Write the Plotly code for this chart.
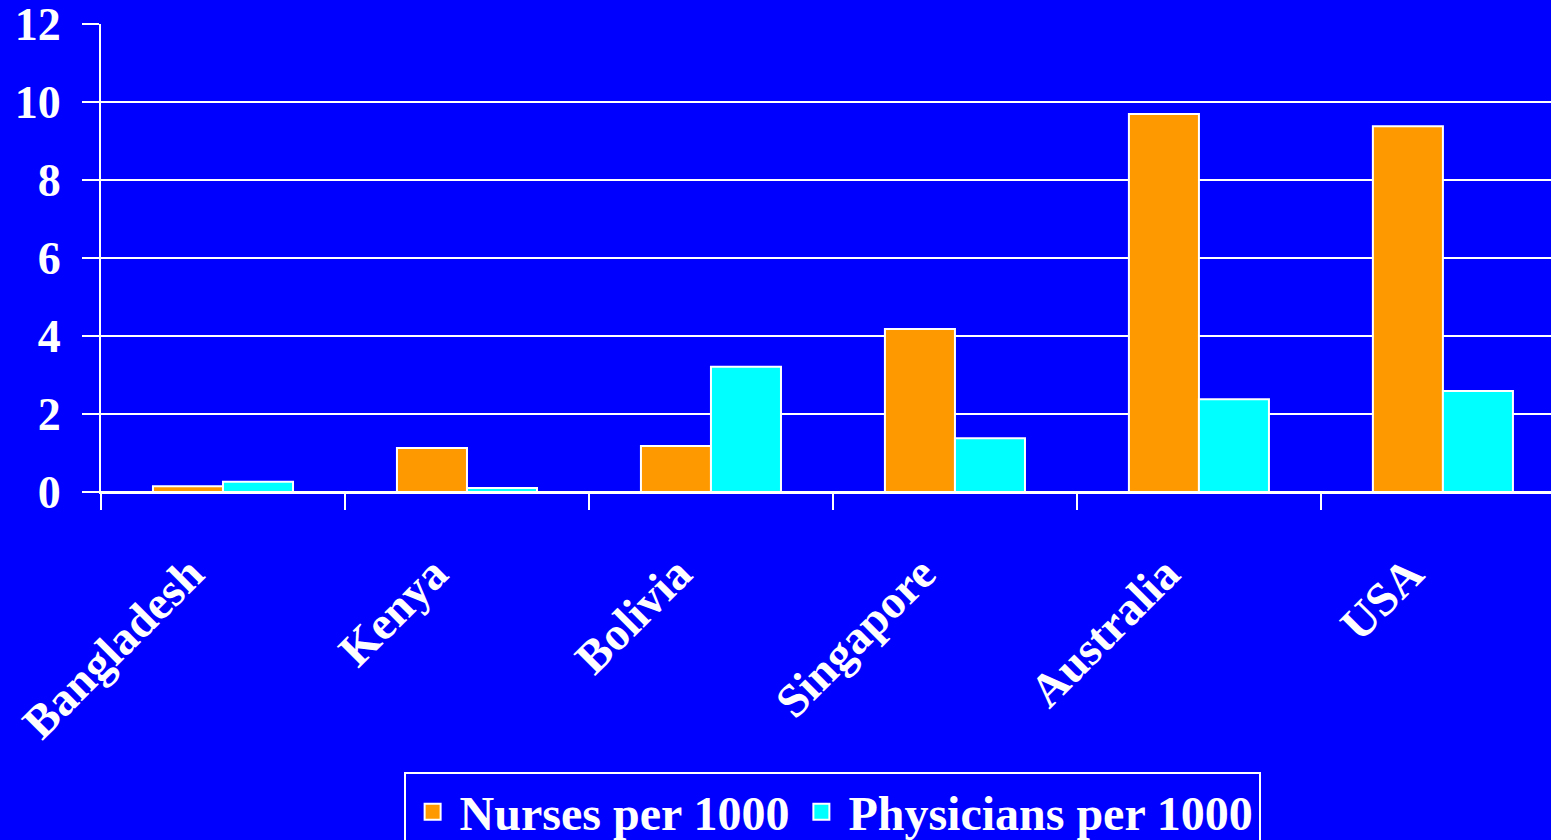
import plotly.graph_objects as go

countries = ["Bangladesh", "Kenya", "Bolivia", "Singapore", "Australia", "USA"]
nurses = [0.15, 1.13, 1.18, 4.18, 9.69, 9.38]
physicians = [0.26, 0.10, 3.21, 1.38, 2.38, 2.59]
y_ticks = [0, 2, 4, 6, 8, 10, 12]
series_names = ["Nurses per 1000", "Physicians per 1000"]
series_colors = ["#FF9900", "#00FFFF"]

BLUE = "#0000FF"
FONT = "Liberation Serif"

fig = go.Figure()
for name, vals, col in zip(series_names, [nurses, physicians], series_colors):
    fig.add_trace(go.Bar(name=name, x=countries, y=vals, showlegend=False,
                         marker=dict(color=col, line=dict(color="white", width=2))))
# legend entries with larger square swatches
for name, col in zip(series_names, series_colors):
    fig.add_trace(go.Scatter(name=name, x=[None], y=[None], mode="markers",
                             marker=dict(symbol="square", size=16, color=col,
                                         line=dict(color="white", width=2))))

fig.update_layout(
    width=1551, height=840,
    paper_bgcolor=BLUE, plot_bgcolor=BLUE,
    margin=dict(l=101, r=0, t=24, b=348, autoexpand=False),
    barmode="group", bargap=0.426, bargroupgap=0,
    font=dict(family=FONT, color="white", size=40, weight="bold"),
    legend=dict(orientation="h", x=0.5365, xref="container", xanchor="center",
                y=0.081, yref="container", yanchor="top",
                bgcolor=BLUE, bordercolor="white", borderwidth=2, itemsizing="trace",
                itemwidth=44,
                font=dict(family=FONT, size=48, color="white", weight="bold")),
    xaxis=dict(range=[-0.5, 5.443], tickson="boundaries", ticks="outside", ticklen=16,
               tickwidth=2, tickcolor="white", tickangle=-45, showgrid=False,
               showline=True, linecolor="white", linewidth=2,
               tickmode="array", tickvals=countries,
               ticktext=[c + "\u00a0\u00a0\u00a0\u00a0" for c in countries],
               tickfont=dict(family=FONT, size=47, color="white", weight="bold"),
               ticklabelstandoff=0, ticklabeloverflow="allow"),
    yaxis=dict(range=[0, 12], tickvals=y_ticks, ticks="outside", ticklen=17, tickwidth=2,
               tickcolor="white", showgrid=True, gridcolor="white", gridwidth=2,
               showline=True, linecolor="white", linewidth=2, zeroline=True,
               zerolinecolor="white", zerolinewidth=2,
               tickfont=dict(family=FONT, size=46, color="white", weight="bold"),
               ticklabelstandoff=12, ticklabeloverflow="allow"),
)

fig.write_html("out.html", config={"displayModeBar": False},
               post_script="document.body.style.margin='0';")
